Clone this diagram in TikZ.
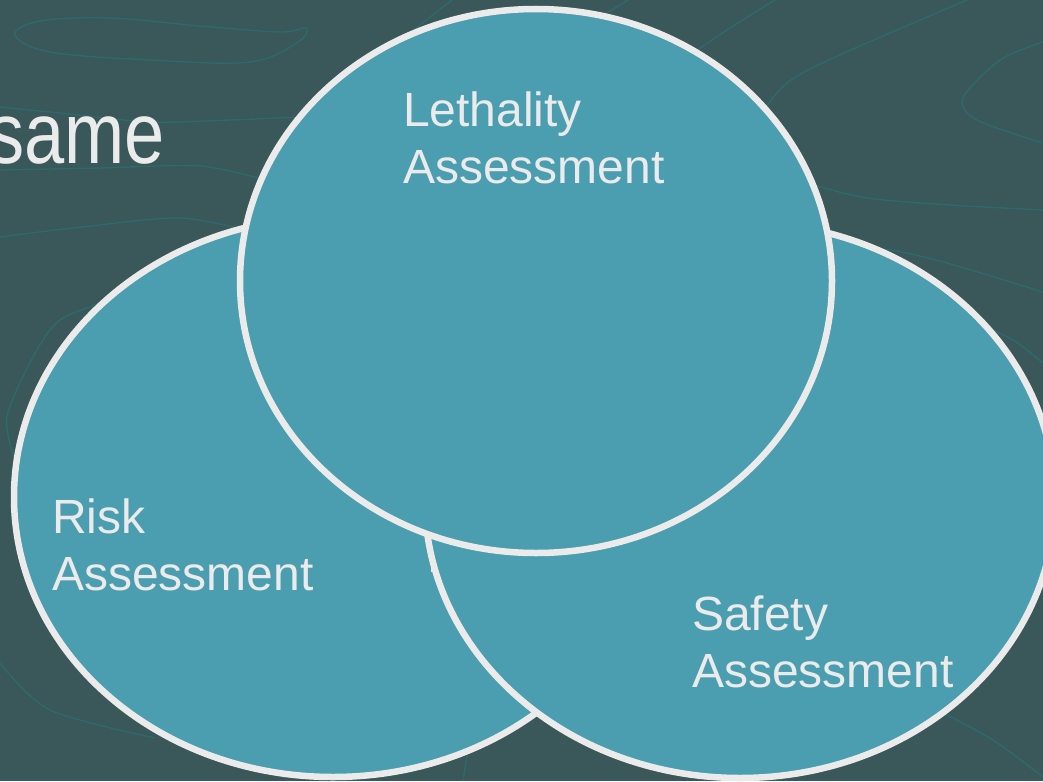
\documentclass[tikz,border=0pt]{standalone}
\usepackage{fontspec}
\setmainfont{Liberation Sans}
\usetikzlibrary{shapes.geometric}

\definecolor{slate}{HTML}{3A5759}
\definecolor{venncyan}{HTML}{4A9EB0}
\definecolor{ringgray}{HTML}{EBEBEB}
\definecolor{contour}{HTML}{2D6A6C}

\begin{document}
\begin{tikzpicture}[
    x=1pt, y=-1pt,
    venn/.style={ellipse, draw=ringgray, line width=6.5pt, fill=venncyan, inner sep=0pt},
    vlabel/.style={anchor=base west, inner sep=0pt, align=left, text=ringgray,
        font=\fontsize{48}{57}\selectfont},
    contourline/.style={draw=contour, line width=1.4pt}
]
    \useasboundingbox (0,0) rectangle (1043,781);
    \clip (0,0) rectangle (1043,781);
    \fill[slate] (0,0) rectangle (1043,781);

    % Background contours
    \draw[contourline] plot[smooth cycle, tension=0.6] coordinates {(15,35) (40,21) (110,18) (200,26) (280,32) (306,28) (298,42) (250,62) (150,60) (50,52)};
    \draw[contourline] plot[smooth] coordinates {(0,107) (60,113) (150,122) (230,120) (300,117)};
    \draw[contourline] plot[smooth] coordinates {(0,170) (100,168) (200,166) (265,180)};
    \draw[contourline] plot[smooth] coordinates {(0,237) (90,226) (180,218) (245,230)};
    \draw[contourline] plot[smooth] coordinates {(390,50) (420,25) (452,0)};
    \draw[contourline] plot[smooth] coordinates {(600,17) (628,0)};
    \draw[contourline] plot[smooth] coordinates {(690,55) (730,28) (775,0)};
    \draw[contourline] plot[smooth] coordinates {(760,115) (787,83) (833,58) (967,0)};
    \draw[contourline] plot[smooth] coordinates {(1043,42) (1000,60) (963,98) (977,120) (1043,143)};
    \draw[contourline] plot[smooth] coordinates {(810,184) (867,198) (950,205) (1043,210)};
    \draw[contourline] plot[smooth] coordinates {(825,245) (890,250) (947,263) (1043,292)};
    \draw[contourline] plot[smooth] coordinates {(975,322) (1013,340) (1043,363)};
    \draw[contourline] plot[smooth] coordinates {(110,300) (60,320) (33,357) (7,417) (15,460)};
    \draw[contourline] plot[smooth] coordinates {(0,663) (50,710) (155,738)};
    \draw[contourline] plot[smooth] coordinates {(468,750) (463,781)};
    \draw[contourline] plot[smooth] coordinates {(945,714) (993,740) (1043,777)};

    % Circles
    \node[venn, minimum width=638pt, minimum height=560pt] (risk) at (333,497) {};
    \node[vlabel] (risklabel) at (52,590) {Risk\\Assessment};
    \draw[ringgray, line width=2pt] (432,555) -- (432,572);
    \node[venn, minimum width=630pt, minimum height=556pt] (safety) at (740,500) {};
    \node[vlabel] (safetylabel) at (692,687) {Safety\\Assessment};
    \node[venn, minimum width=592pt, minimum height=544pt] (lethality) at (536,281) {};
    \node[vlabel] (lethalitylabel) at (403,183) {Lethality\\Assessment};

    % Title fragment
    \node[anchor=base east, inner sep=0pt, text=ringgray, font=\fontsize{87}{90}\selectfont]
        (title) at (165,163) {\scalebox{0.83}[1]{same}};
\end{tikzpicture}
\end{document}
